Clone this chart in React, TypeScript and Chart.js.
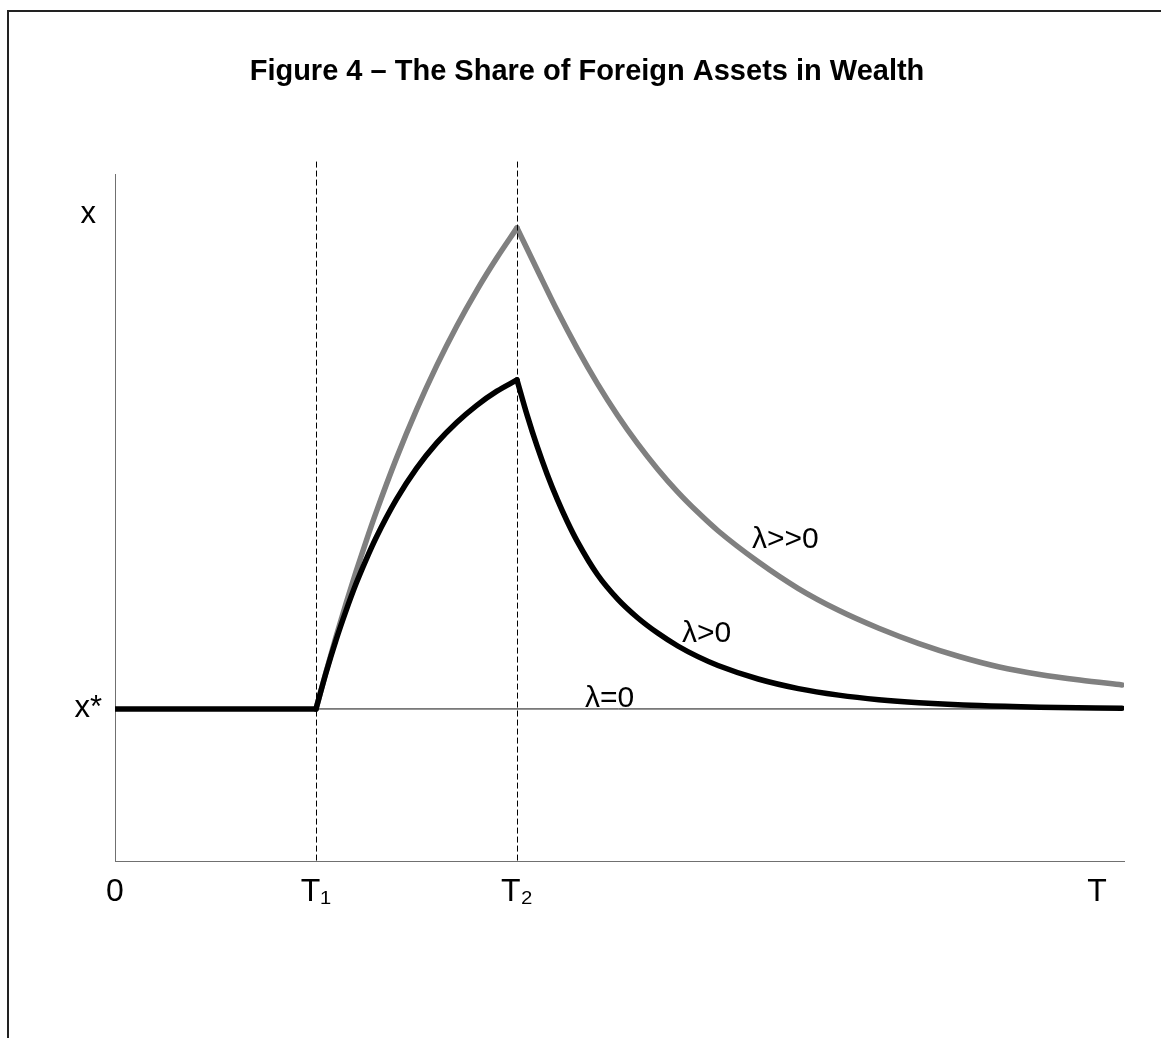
import React, { useEffect, useRef } from "react";
import { Chart, registerables } from "chart.js";

Chart.register(...registerables);

const TITLE = "Figure 4 – The Share of Foreign Assets in Wealth";

// Axis ticks (time axis: T1 = 1, T2 = 2)
const xTickValues = [0, 1, 2, 4.886];
const xTickLabels = ["0", "T₁", "T₂", "T"];
const yTickValues = [1, 4.25];
const yTickLabels = ["x*", "x"];
const X_MIN = 0;
const X_MAX = 5.02;
const Y_MIN = 0;
const Y_MAX = 4.513;

// Steady state (λ=0) level and pre-shock path
const steadyX = [0, 5.01];
const steadyY = [1, 1];
const flatX = [0, 1];
const flatY = [1, 1];

// λ>0 (black)
const blackRiseX = [1.0, 1.05, 1.1, 1.15, 1.2, 1.25, 1.3, 1.4, 1.5, 1.6, 1.7, 1.8, 1.9, 2.0];
const blackRiseY = [1.0, 1.238, 1.454, 1.648, 1.826, 1.984, 2.129, 2.378, 2.582, 2.748, 2.884, 2.997, 3.09, 3.164];
const blackFallX = [2.0, 2.05, 2.1, 2.15, 2.2, 2.25, 2.3, 2.4, 2.5, 2.6, 2.7, 2.8, 2.9, 3.0, 3.2, 3.4, 3.6, 3.8, 4.0, 4.3, 4.6, 5.01];
const blackFallY = [3.164, 2.934, 2.728, 2.544, 2.38, 2.233, 2.102, 1.884, 1.724, 1.6, 1.499, 1.414, 1.344, 1.286, 1.197, 1.134, 1.091, 1.061, 1.041, 1.022, 1.012, 1.005];

// λ>>0 (grey)
const greyRiseX = [1.0, 1.05, 1.1, 1.15, 1.2, 1.25, 1.3, 1.4, 1.5, 1.6, 1.7, 1.8, 1.9, 2.0];
const greyRiseY = [1.0, 1.244, 1.476, 1.696, 1.906, 2.106, 2.296, 2.648, 2.967, 3.256, 3.517, 3.753, 3.967, 4.164];
const greyFallX = [2.0, 2.1, 2.2, 2.3, 2.4, 2.5, 2.6, 2.7, 2.8, 2.9, 3.0, 3.2, 3.4, 3.6, 3.8, 4.0, 4.2, 4.4, 4.6, 4.8, 5.01];
const greyFallY = [4.164, 3.89, 3.62, 3.37, 3.14, 2.932, 2.745, 2.577, 2.426, 2.293, 2.172, 1.968, 1.792, 1.649, 1.531, 1.43, 1.345, 1.276, 1.227, 1.19, 1.158];

// Vertical dashed markers at T1 and T2
const markerX = [1, 2];
const markerTop = 4.6;

// Curve labels
const curveLabels = ["λ>>0", "λ>0", "λ=0"];
const curveLabelX = [3.169, 2.821, 2.338];
const curveLabelY = [2.059, 1.441, 1.013];

const FONT = "'Liberation Sans', Arial, Helvetica, sans-serif";

const pts = (xs: number[], ys: number[]) => xs.map((x, i) => ({ x, y: ys[i] }));

const overlayPlugin = {
  id: "overlay",
  afterDatasetsDraw(chart: any) {
    const { ctx, scales } = chart;
    ctx.save();
    // dashed markers, pixel-aligned for crisp 1px lines
    ctx.strokeStyle = "#000";
    ctx.lineWidth = 1;
    ctx.setLineDash([6, 3]);
    const yTop = scales.y.getPixelForValue(markerTop);
    const yBot = scales.y.getPixelForValue(Y_MIN);
    markerX.forEach((mx) => {
      const px = Math.round(scales.x.getPixelForValue(mx)) + 0.5;
      ctx.beginPath();
      ctx.moveTo(px, yTop);
      ctx.lineTo(px, yBot);
      ctx.stroke();
    });
    ctx.setLineDash([]);
    // curve labels
    ctx.font = `30px ${FONT}`;
    ctx.fillStyle = "#000";
    ctx.textAlign = "left";
    ctx.textBaseline = "alphabetic";
    curveLabels.forEach((t, i) => {
      ctx.fillText(t, scales.x.getPixelForValue(curveLabelX[i]), scales.y.getPixelForValue(curveLabelY[i]));
    });
    ctx.restore();
  },
};

export default function App() {
  const ref = useRef<HTMLCanvasElement | null>(null);

  useEffect(() => {
    if (!ref.current) return;
    const thick = (data: any[], color: string, order: number) => ({
      data,
      borderColor: color,
      borderWidth: 5.5,
      pointRadius: 0,
      cubicInterpolationMode: "monotone" as const,
      borderCapStyle: "round" as const,
      borderJoinStyle: "round" as const,
      fill: false,
      order,
    });
    const chart = new Chart(ref.current, {
      type: "line",
      data: {
        datasets: [
          thick(pts(flatX, flatY), "#000000", 0),
          thick(pts(blackRiseX, blackRiseY), "#000000", 0),
          thick(pts(blackFallX, blackFallY), "#000000", 0),
          thick(pts(greyRiseX, greyRiseY), "#808080", 1),
          thick(pts(greyFallX, greyFallY), "#808080", 1),
          {
            data: pts(steadyX, steadyY),
            borderColor: "#111",
            borderWidth: 1,
            pointRadius: 0,
            tension: 0,
            order: 2,
          },
        ] as any,
      },
      options: {
        animation: false,
        responsive: false,
        maintainAspectRatio: false,
        events: [],
        layout: { padding: { left: 50, right: 37, top: 0, bottom: 117 } },
        plugins: {
          legend: { display: false },
          tooltip: { enabled: false },
          title: {
            display: true,
            text: TITLE,
            color: "#000",
            font: { family: FONT, size: 29, weight: "bold" },
            padding: { top: 55, bottom: 85 },
          },
        },
        scales: {
          x: {
            type: "linear",
            min: X_MIN,
            max: X_MAX,
            grid: { display: false, drawTicks: false },
            border: { display: true, color: "#707070", width: 1 },
            afterBuildTicks: (scale: any) => {
              scale.ticks = xTickValues.map((v) => ({ value: v }));
            },
            afterFit: (scale: any) => {
              scale.height = 60;
            },
            ticks: {
              autoSkip: false,
              maxRotation: 0,
              padding: 12,
              color: "#000",
              font: { family: FONT, size: 32 },
              callback: (_v: any, i: number) => xTickLabels[i],
            },
          },
          y: {
            type: "linear",
            min: Y_MIN,
            max: Y_MAX,
            grid: { display: false, drawTicks: false },
            border: { display: true, color: "#707070", width: 1 },
            afterBuildTicks: (scale: any) => {
              scale.ticks = yTickValues.map((v) => ({ value: v }));
            },
            afterFit: (scale: any) => {
              scale.width = 65;
            },
            ticks: {
              autoSkip: false,
              padding: 13,
              crossAlign: "center",
              color: "#000",
              font: { family: FONT, size: 31 },
              callback: (_v: any, i: number) => yTickLabels[i],
            },
          },
        },
      } as any,
      plugins: [overlayPlugin],
    });
    return () => chart.destroy();
  }, []);

  return (
    <div style={{ position: "fixed", left: 0, top: 0, width: 1161, height: 1038, overflow: "hidden", background: "#fff" }}>
      <div
        style={{
          position: "absolute",
          left: 7,
          top: 10,
          width: 1200,
          height: 1100,
          borderLeft: "2px solid #222",
          borderTop: "2px solid #222",
        }}
      />
      <canvas ref={ref} width={1161} height={1038} style={{ position: "absolute", left: 0, top: 0 }} />
    </div>
  );
}
